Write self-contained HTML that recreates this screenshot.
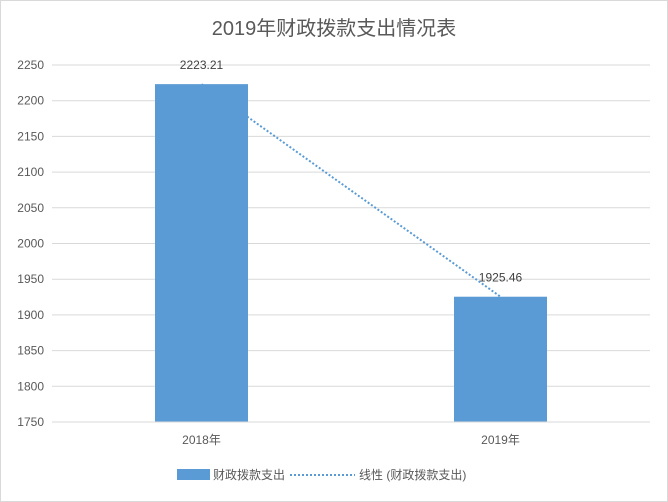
<!DOCTYPE html>
<html><head><meta charset="utf-8"><style>
html,body{margin:0;padding:0;background:#fff;}
body{width:668px;height:502px;overflow:hidden;font-family:"Liberation Sans","Noto Sans CJK SC",sans-serif;}
#frame{position:absolute;left:0;top:0;width:666px;height:500px;border:1px solid #d9d9d9;}
</style></head><body>
<div id="frame"></div>
<svg id="chart" width="668" height="502" style="position:absolute;left:0;top:0"></svg>
<script>
const categories=["2018年","2019年"];
const values=[2223.21,1925.46];
const valueLabels=["2223.21","1925.46"];
const yTicks=[1750,1800,1850,1900,1950,2000,2050,2100,2150,2200,2250];
const NS="http://www.w3.org/2000/svg";
const svg=document.getElementById('chart');
const L=52,R=650,T=65,B=422,yMin=1750,yMax=2250;
const y=v=>B-(v-yMin)/(yMax-yMin)*(B-T);
const band=(R-L)/categories.length;
const xc=i=>L+band*(i+0.5);
const barW=93;
function mk(tag,attrs,text){const e=document.createElementNS(NS,tag);for(const k in attrs)e.setAttribute(k,attrs[k]);if(text!==undefined)e.textContent=text;svg.appendChild(e);return e;}
const title=mk('text',{x:334,y:35,'text-anchor':'middle','font-size':20,fill:'#595959'},'2019年财政拨款支出情况表');


yTicks.forEach(t=>{
  const g=mk('line',{x1:L,x2:R,y1:y(t),y2:y(t),stroke:'#d9d9d9','stroke-width':1});
  
  
  const lb=mk('text',{x:44,y:y(t)+4,'text-anchor':'end','font-size':12,fill:'#595959'},t);
  
  
});
values.forEach((v,i)=>{
  const r=mk('rect',{x:xc(i)-barW/2,y:y(v),width:barW,height:B-y(v),fill:'#5b9bd5'});
  
  
  const t=mk('text',{x:xc(i),y:y(v)-15,'text-anchor':'middle','font-size':12,fill:'#404040'},valueLabels[i]);
  
  
  const c=mk('text',{x:xc(i),y:444,'text-anchor':'middle','font-size':12,fill:'#595959'},categories[i]);
  
  
});
const tl=mk('line',{x1:xc(0),y1:y(values[0]),x2:xc(values.length-1),y2:y(values[values.length-1]),stroke:'#5b9bd5','stroke-width':2,'stroke-dasharray':'2,2'});


const ax=mk('line',{x1:L,x2:R,y1:B,y2:B,stroke:'#d9d9d9','stroke-width':1});


const lr=mk('rect',{x:177,y:469,width:33,height:11,fill:'#5b9bd5'});


const lt1=mk('text',{x:213,y:479,'font-size':12,fill:'#595959'},'财政拨款支出');


const ll=mk('line',{x1:290,x2:355,y1:475,y2:475,stroke:'#5b9bd5','stroke-width':2,'stroke-dasharray':'2,2'});


const lt2=mk('text',{x:359,y:479,'font-size':12,fill:'#595959'},'线性 (财政拨款支出)');


</script>
</body></html>
